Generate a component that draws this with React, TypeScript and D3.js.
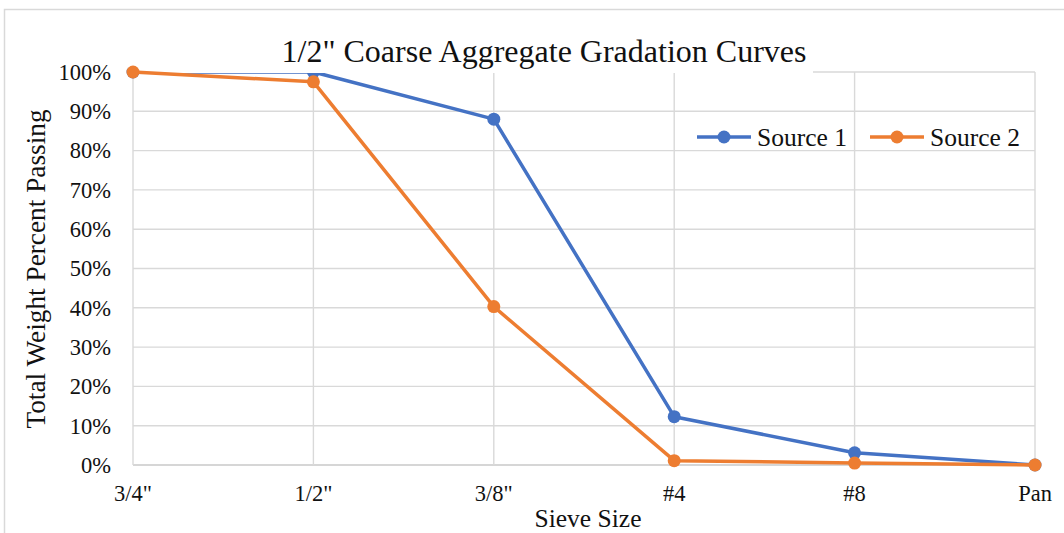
import React from "react";
import * as d3 from "d3";

// Sieve sizes along the category axis
const sieveSizes: string[] = ['3/4"', '1/2"', '3/8"', "#4", "#8", "Pan"];
// Total weight percent passing for each aggregate source
const source1: number[] = [100, 100, 88, 12.3, 3.1, 0];
const source2: number[] = [100, 97.5, 40.3, 1.1, 0.5, 0];
// Percent ticks on the value axis
const yTicks: number[] = [0, 10, 20, 30, 40, 50, 60, 70, 80, 90, 100];

const seriesNames = ["Source 1", "Source 2"];
const seriesColors = ["#4472c4", "#ed7d31"];

const W = 1064;
const H = 533;
const FONT = "'Liberation Serif', 'Times New Roman', serif";
const GRID = "#d9d9d9";

export default function App() {
  const x = d3.scalePoint<string>().domain(sieveSizes).range([133, 1035]).padding(0);
  const y = d3.scaleLinear().domain([0, 100]).range([465, 72]);

  const line = d3
    .line<number>()
    .x((_, i) => x(sieveSizes[i]) as number)
    .y((d) => y(d));

  const [x0, x1] = x.range();

  const drawSeries = (vals: number[], i: number) => (
    <g key={"s" + i}>
      <path
        d={line(vals) ?? ""}
        fill="none"
        stroke={seriesColors[i]}
        strokeWidth={3.5}
        strokeLinejoin="round"
      />
      {vals.map((v, j) => (
        <circle key={"m" + j} cx={x(sieveSizes[j])} cy={y(v)} r={6.5} fill={seriesColors[i]} />
      ))}
    </g>
  );

  return (
    <svg
      width={W}
      height={H}
      style={{ position: "absolute", left: 0, top: 0, background: "#fff" }}
      fontFamily={FONT}
    >
      {/* chart border */}
      <rect x={4.5} y={9.5} width={W + 20} height={H + 20} fill="#fff" stroke={GRID} strokeWidth={1.5} />

      {/* horizontal gridlines */}
      {yTicks.map((t) => (
        <line
          key={"h" + t}
          x1={x0}
          x2={x1}
          y1={y(t)}
          y2={y(t)}
          stroke={t === 0 ? "#c9c9c9" : GRID}
          strokeWidth={1.4}
        />
      ))}
      {/* vertical gridlines */}
      {sieveSizes.map((s) => (
        <line
          key={"v" + s}
          x1={x(s)}
          x2={x(s)}
          y1={y(100)}
          y2={y(0)}
          stroke={GRID}
          strokeWidth={1.4}
        />
      ))}

      {/* Source 1 sits beneath the title backing */}
      {drawSeries(source1, 0)}

      {/* title with its white backing */}
      <rect x={128} y={36} width={685} height={37} fill="#fff" />
      <text x={544} y={62} textAnchor="middle" fontSize={32} fill="#111">
        1/2" Coarse Aggregate Gradation Curves
      </text>

      {drawSeries(source2, 1)}

      {/* value axis labels */}
      {yTicks.map((t) => (
        <text
          key={"yt" + t}
          x={111}
          y={y(t)}
          dy="0.35em"
          textAnchor="end"
          fontSize={22.5}
          fill="#111"
        >
          {t + "%"}
        </text>
      ))}

      {/* category axis labels */}
      {sieveSizes.map((s) => (
        <text key={"xt" + s} x={x(s)} y={501} textAnchor="middle" fontSize={22.5} fill="#111">
          {s}
        </text>
      ))}

      {/* axis titles */}
      <text x={588} y={527} textAnchor="middle" fontSize={25.5} fill="#111">
        Sieve Size
      </text>
      <text
        transform={`translate(45, 269) rotate(-90)`}
        textAnchor="middle"
        fontSize={27.3}
        fill="#111"
      >
        Total Weight Percent Passing
      </text>

      {/* legend */}
      {seriesNames.map((name, i) => {
        const lx = i === 0 ? 697 : 870;
        const ly = 137;
        return (
          <g key={"lg" + i}>
            <line x1={lx} x2={lx + 54} y1={ly} y2={ly} stroke={seriesColors[i]} strokeWidth={3.5} />
            <circle cx={lx + 27} cy={ly} r={6.5} fill={seriesColors[i]} />
            <text x={lx + 60} y={ly + 9} fontSize={25.5} fill="#111">
              {name}
            </text>
          </g>
        );
      })}
    </svg>
  );
}
